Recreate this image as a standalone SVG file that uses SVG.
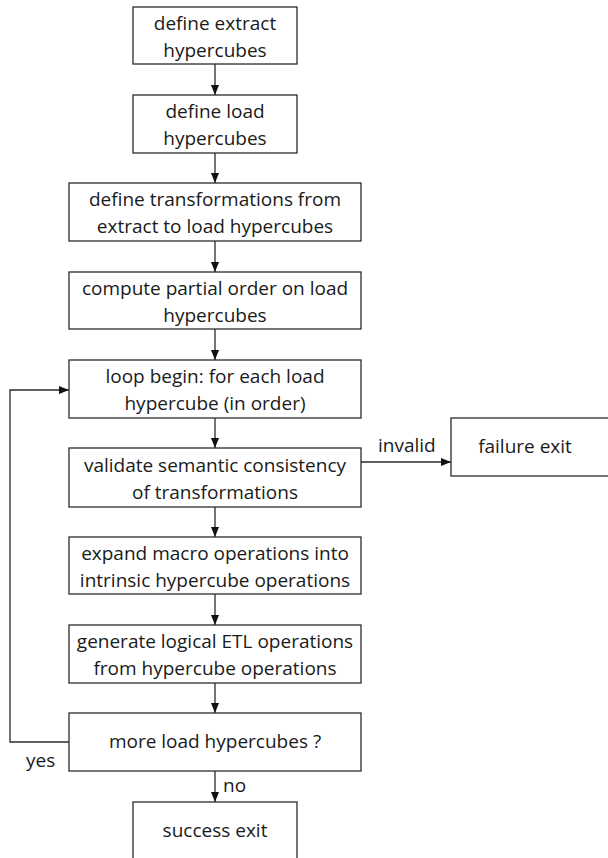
<svg xmlns="http://www.w3.org/2000/svg" width="608" height="858" viewBox="0 0 608 858">
  <style>
    .box { fill: #ffffff; stroke: #2b2b2b; stroke-width: 1.3; }
    .lbl { font-family: "Open Sans", "Noto Sans", "Liberation Sans", sans-serif; font-size: 19px; fill: #1a1a1a; text-anchor: middle; }
    .edge-lbl { font-family: "Open Sans", "Noto Sans", "Liberation Sans", sans-serif; font-size: 19px; fill: #1a1a1a; }
    .wire { fill: none; stroke: #2b2b2b; stroke-width: 1.3; }
  </style>
  <defs>
    <marker id="arrow" viewBox="0 0 10 8" refX="10" refY="4" markerWidth="10" markerHeight="8" markerUnits="userSpaceOnUse" orient="auto">
      <path d="M0,0 L10,4 L0,8 Z" fill="#111111"/>
    </marker>
  </defs>
  <rect width="608" height="858" fill="#ffffff"/>

  <g id="connectors">
    <line class="wire" x1="215" y1="64" x2="215" y2="95" marker-end="url(#arrow)"/>
    <line class="wire" x1="215" y1="153" x2="215" y2="183" marker-end="url(#arrow)"/>
    <line class="wire" x1="215" y1="241" x2="215" y2="272" marker-end="url(#arrow)"/>
    <line class="wire" x1="215" y1="329" x2="215" y2="360" marker-end="url(#arrow)"/>
    <line class="wire" x1="215" y1="418" x2="215" y2="448" marker-end="url(#arrow)"/>
    <line class="wire" x1="215" y1="507" x2="215" y2="537" marker-end="url(#arrow)"/>
    <line class="wire" x1="215" y1="594" x2="215" y2="625" marker-end="url(#arrow)"/>
    <line class="wire" x1="215" y1="683" x2="215" y2="713" marker-end="url(#arrow)"/>
    <line class="wire" x1="215" y1="771" x2="215" y2="802" marker-end="url(#arrow)"/>
    <line class="wire" x1="361" y1="462" x2="451" y2="462" marker-end="url(#arrow)"/>
    <polyline class="wire" points="69,742 10,742 10,390 69,390" marker-end="url(#arrow)"/>
    <text class="edge-lbl" x="378" y="452">invalid</text>
    <text class="edge-lbl" x="26" y="767">yes</text>
    <text class="edge-lbl" x="223" y="792">no</text>
  </g>

  <g id="define-extract">
    <rect class="box" x="133" y="7" width="164" height="57"/>
    <text class="lbl" x="215" y="30">define extract</text>
    <text class="lbl" x="215" y="57">hypercubes</text>
  </g>
  <g id="define-load">
    <rect class="box" x="133" y="95" width="164" height="58"/>
    <text class="lbl" x="215" y="118">define load</text>
    <text class="lbl" x="215" y="145">hypercubes</text>
  </g>
  <g id="define-transformations">
    <rect class="box" x="69" y="183" width="292" height="58"/>
    <text class="lbl" x="215" y="206">define transformations from</text>
    <text class="lbl" x="215" y="233">extract to load hypercubes</text>
  </g>
  <g id="partial-order">
    <rect class="box" x="69" y="272" width="292" height="57"/>
    <text class="lbl" x="215" y="295">compute partial order on load</text>
    <text class="lbl" x="215" y="322">hypercubes</text>
  </g>
  <g id="loop-begin">
    <rect class="box" x="69" y="360" width="292" height="58"/>
    <text class="lbl" x="215" y="383">loop begin: for each load</text>
    <text class="lbl" x="215" y="410">hypercube (in order)</text>
  </g>
  <g id="validate">
    <rect class="box" x="69" y="448" width="292" height="59"/>
    <text class="lbl" x="215" y="472">validate semantic consistency</text>
    <text class="lbl" x="215" y="499">of transformations</text>
  </g>
  <g id="expand-macros">
    <rect class="box" x="69" y="537" width="292" height="57"/>
    <text class="lbl" x="215" y="560">expand macro operations into</text>
    <text class="lbl" x="215" y="587">intrinsic hypercube operations</text>
  </g>
  <g id="generate-etl">
    <rect class="box" x="69" y="625" width="292" height="58"/>
    <text class="lbl" x="215" y="648">generate logical ETL operations</text>
    <text class="lbl" x="215" y="675">from hypercube operations</text>
  </g>
  <g id="more-load">
    <rect class="box" x="69" y="713" width="292" height="58"/>
    <text class="lbl" x="215" y="748">more load hypercubes ?</text>
  </g>
  <g id="failure-exit">
    <rect class="box" x="451" y="418" width="165" height="58"/>
    <text class="lbl" x="525" y="453">failure exit</text>
  </g>
  <g id="success-exit">
    <rect class="box" x="133" y="802" width="164" height="60"/>
    <text class="lbl" x="215" y="837">success exit</text>
  </g>
</svg>
